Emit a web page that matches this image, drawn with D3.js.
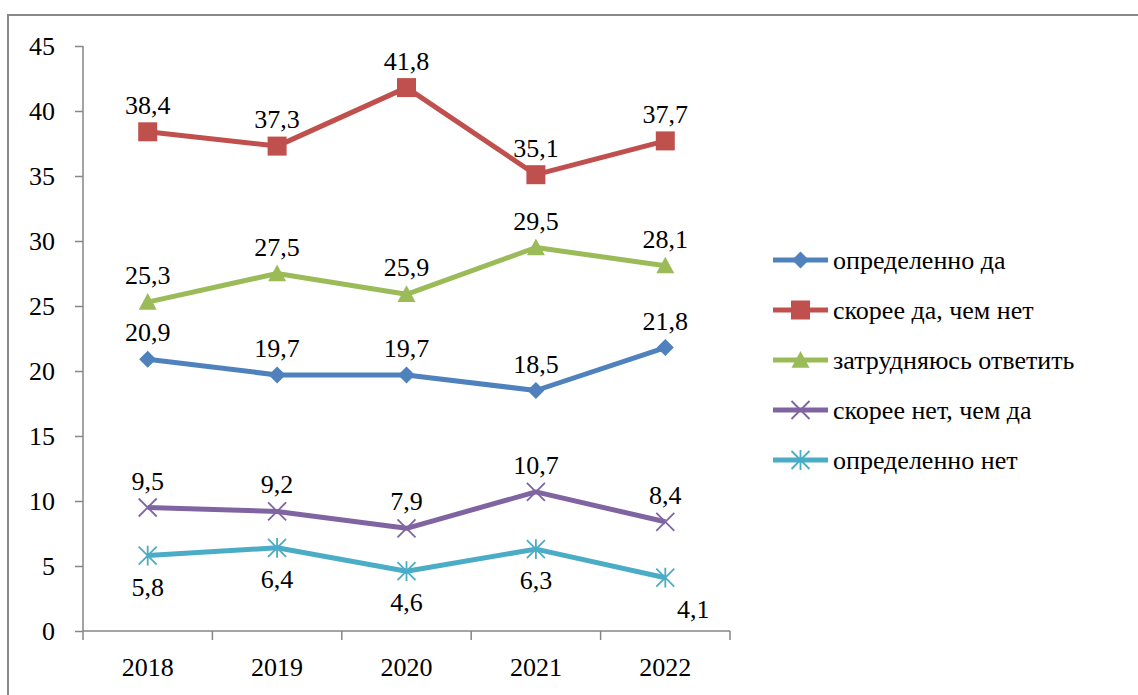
<!DOCTYPE html>
<html><head><meta charset="utf-8">
<script src="https://cdn.jsdelivr.net/npm/d3@7"></script>
<style>html,body{margin:0;padding:0;background:#fff;} svg{display:block;} svg text{font-family:"Liberation Serif",Tinos,"Times New Roman","DejaVu Serif","Noto Serif",serif !important;}</style>
</head><body>
<svg id="chart" width="1138" height="695"></svg>
<script>
const years = ["2018", "2019", "2020", "2021", "2022"];
const seriesNames = ["определенно да", "скорее да, чем нет", "затрудняюсь ответить", "скорее нет, чем да", "определенно нет"];
const definitelyYes = [20.9, 19.7, 19.7, 18.5, 21.8];
const ratherYes = [38.4, 37.3, 41.8, 35.1, 37.7];
const hardToSay = [25.3, 27.5, 25.9, 29.5, 28.1];
const ratherNo = [9.5, 9.2, 7.9, 10.7, 8.4];
const definitelyNo = [5.8, 6.4, 4.6, 6.3, 4.1];
const yTicks = [0, 5, 10, 15, 20, 25, 30, 35, 40, 45];

(function () {
const colors = ["#4F81BD", "#C0504D", "#9BBB59", "#8064A2", "#4BACC6"];
const markers = ["diamond", "square", "triangle", "x", "star"];
const labelPos = ["above", "above", "above", "above", "below"];
const seriesValues = [definitelyYes, ratherYes, hardToSay, ratherNo, definitelyNo];
const series = seriesNames.map((n, i) => ({name: n, values: seriesValues[i], color: colors[i], marker: markers[i], pos: labelPos[i]}));

const svg = d3.select("#chart");
const fs = 26;

svg.append("rect").attr("x", 8).attr("y", 15).attr("width", 1150).attr("height", 720)
  .attr("fill", "none").attr("stroke", "#888").attr("stroke-width", 2);

const pL = 83, pR = 730, pT = 46, pB = 631;
const x = d3.scaleBand().domain(years).range([pL, pR]);
const y = d3.scaleLinear().domain([0, 45]).range([pB, pT]);

const yAxis = svg.append("g").attr("transform", `translate(${pL},0)`)
  .call(d3.axisLeft(y).tickValues(yTicks).tickSize(8).tickPadding(20).tickFormat(d3.format("d")));
yAxis.select(".domain").attr("stroke", "#868686").attr("stroke-width", 1.5).attr("d", `M0,${pT}V${pB}`);
yAxis.selectAll(".tick line").attr("stroke", "#868686").attr("stroke-width", 1.5);
yAxis.selectAll(".tick text").attr("font-size", fs).attr("fill", "#000").attr("dy", "0.34em");

const xAxis = svg.append("g").attr("transform", `translate(0,${pB})`)
  .call(d3.axisBottom(x).tickSize(0).tickPadding(27));
xAxis.select(".domain").attr("stroke", "#868686").attr("stroke-width", 1.5).attr("d", `M${pL},0H${pR}`);
xAxis.selectAll(".tick text").attr("font-size", fs).attr("fill", "#000").attr("dy", "0.71em");
const bounds = years.map(d => x(d)).concat([x(years[years.length - 1]) + x.bandwidth()]);
xAxis.selectAll(".bnd").data(bounds).enter().append("line")
  .attr("x1", d => d).attr("x2", d => d).attr("y1", 0).attr("y2", 9)
  .attr("stroke", "#868686").attr("stroke-width", 1.5);

const cx = d => x(d) + x.bandwidth() / 2;

function drawMarker(g, type, color, px, py) {
  if (type === "diamond") {
    const r = 8.5;
    g.append("path").attr("d", `M${px},${py - r}L${px + r},${py}L${px},${py + r}L${px - r},${py}Z`).attr("fill", color);
  } else if (type === "square") {
    const h = 9.5;
    g.append("rect").attr("x", px - h).attr("y", py - h).attr("width", 2 * h).attr("height", 2 * h).attr("fill", color);
  } else if (type === "triangle") {
    const h = 9;
    g.append("path").attr("d", `M${px},${py - h}L${px + h},${py + h * 0.85}L${px - h},${py + h * 0.85}Z`).attr("fill", color);
  } else if (type === "x") {
    const h = 9;
    g.append("path").attr("d", `M${px - h},${py - h}L${px + h},${py + h}M${px - h},${py + h}L${px + h},${py - h}`)
      .attr("stroke", color).attr("stroke-width", 1.8).attr("fill", "none");
  } else if (type === "star") {
    const h = 9;
    g.append("path").attr("d", `M${px - h},${py - h}L${px + h},${py + h}M${px - h},${py + h}L${px + h},${py - h}M${px},${py - h * 1.1}L${px},${py + h * 1.1}`)
      .attr("stroke", color).attr("stroke-width", 1.8).attr("fill", "none");
  }
}

const line = d3.line().x((d, i) => cx(years[i])).y(d => y(d));
const fmt = v => d3.format(".1f")(v).replace(".", ",");

series.forEach((s) => {
  const g = svg.append("g");
  g.append("path").datum(s.values).attr("d", line).attr("fill", "none")
    .attr("stroke", s.color).attr("stroke-width", 5).attr("stroke-linejoin", "round");
  s.values.forEach((v, i) => drawMarker(g, s.marker, s.color, cx(years[i]), y(v)));
});

series.forEach((s) => {
  s.values.forEach((v, i) => {
    const px = cx(years[i]), py = y(v);
    const isLastBelow = s.pos === "below" && i === s.values.length - 1;
    svg.append("text")
      .attr("x", isLastBelow ? px + 28 : px)
      .attr("y", s.pos === "above" ? py - 18 : py + 40)
      .attr("text-anchor", "middle").attr("font-size", fs).attr("fill", "#000")
      .text(fmt(v));
  });
});

const legendX = 773, legendY = 260, legendStep = 50;
series.forEach((s, i) => {
  const g = svg.append("g");
  const ly = legendY + i * legendStep;
  g.append("line").attr("x1", legendX).attr("x2", legendX + 55).attr("y1", ly).attr("y2", ly)
    .attr("stroke", s.color).attr("stroke-width", 5);
  drawMarker(g, s.marker, s.color, legendX + 27.5, ly);
  g.append("text").attr("x", legendX + 60).attr("y", ly).attr("dy", "0.35em")
    .attr("font-size", fs).attr("fill", "#000").text(s.name);
});
})();
</script>
</body></html>
